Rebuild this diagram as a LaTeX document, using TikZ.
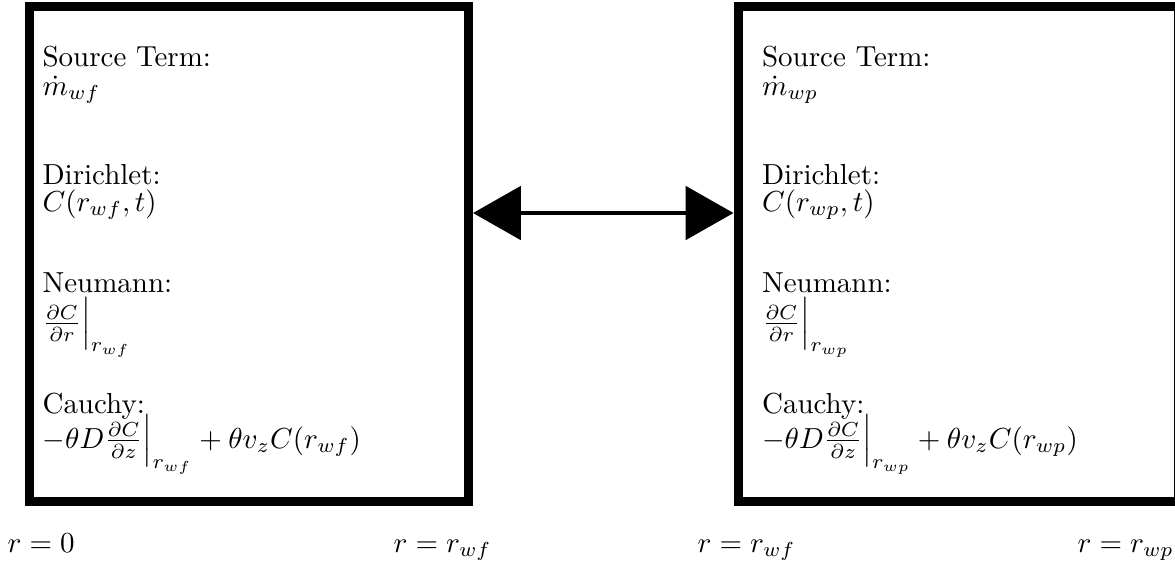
\documentclass[tikz,border=0pt]{standalone}
\usepackage{amsmath}
\usetikzlibrary{arrows.meta, positioning, fit}

\tikzset{
  wellbox/.style={draw, line width=3.1pt, inner sep=0pt},
  bchead/.style={anchor=base west, inner sep=0pt},
  bcterm/.style={anchor=base west, inner sep=0pt},
  rlabel/.style={anchor=base west, inner sep=0pt},
  exchange/.style={{Triangle[length=16.5pt, width=18.3pt]}-{Triangle[length=16.5pt, width=18.3pt]}, line width=1.7pt}
}

\begin{document}
\begin{tikzpicture}[x=0.345pt, y=-0.345pt]
  \useasboundingbox (0,0) rectangle (1175,562);

  % the two boxes
  \coordinate (f1) at (29.5,6);
  \coordinate (f2) at (468.5,501);
  \node[wellbox, fit=(f1)(f2)] (fbox) {};
  \coordinate (p1) at (738,6.5);
  \coordinate (p2) at (1178,501);
  \node[wellbox, fit=(p1)(p2)] (pbox) {};

  \draw[exchange] (fbox.east |- 0,213) -- (pbox.west |- 0,213);

  % left box
  \node[bchead] (fsrc) at (42,66) {Source Term:};
  \node[bcterm] (fsrcv) at (42,95) {$\dot{m}_{wf}$};
  \node[bchead] (fdir) at (42,184) {Dirichlet:};
  \node[bcterm] (fdirv) at (42,211) {$C(r_{wf},t)$};
  \node[bchead] (fneu) at (42,292) {Neumann:};
  \node[bcterm] (fneuv) at (42,331) {$\frac{\partial C}{\partial r}\Big|_{r_{wf}}$};
  \node[bchead] (fcau) at (42,413) {Cauchy:};
  \node[bcterm] (fcauv) at (42,448) {$-\theta D\frac{\partial C}{\partial z}\Big|_{r_{wf}}+\theta v_z C(r_{wf})$};

  % right box
  \node[bchead] (psrc) at (761.5,66) {Source Term:};
  \node[bcterm] (psrcv) at (761.5,95) {$\dot{m}_{wp}$};
  \node[bchead] (pdir) at (761.5,184) {Dirichlet:};
  \node[bcterm] (pdirv) at (761.5,211) {$C(r_{wp},t)$};
  \node[bchead] (pneu) at (761.5,292) {Neumann:};
  \node[bcterm] (pneuv) at (761.5,331) {$\frac{\partial C}{\partial r}\Big|_{r_{wp}}$};
  \node[bchead] (pcau) at (761.5,413) {Cauchy:};
  \node[bcterm] (pcauv) at (761.5,448) {$-\theta D\frac{\partial C}{\partial z}\Big|_{r_{wp}}+\theta v_z C(r_{wp})$};

  % radii
  \node[rlabel] (r0) at (7,552) {$r=0$};
  \node[rlabel] (rf1) at (393,552) {$r=r_{wf}$};
  \node[rlabel] (rf2) at (697,552) {$r=r_{wf}$};
  \node[rlabel] (rp) at (1077,552) {$r=r_{wp}$};
\end{tikzpicture}
\end{document}
